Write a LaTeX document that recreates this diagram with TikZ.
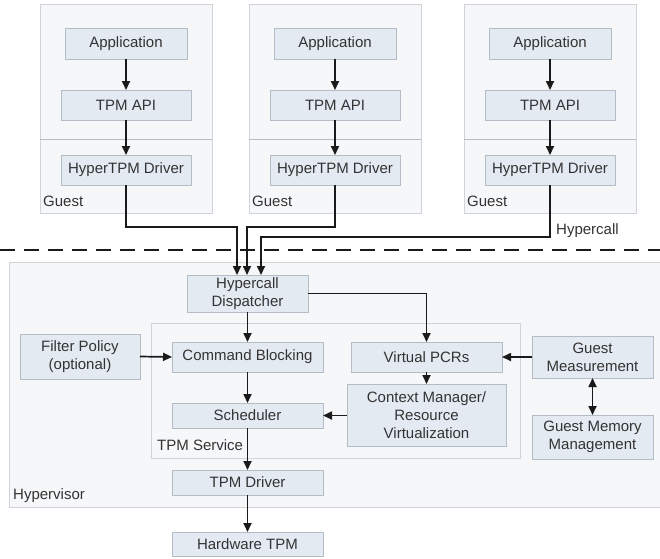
\documentclass[tikz,border=0pt]{standalone}
\usepackage{fontspec}
\setmainfont{Liberation Sans}
\usetikzlibrary{arrows.meta}
\definecolor{boxfill}{HTML}{E4EAF2}
\definecolor{boxline}{HTML}{B4BCC6}
\definecolor{outfill}{HTML}{F6F7F9}
\definecolor{outline}{HTML}{D0D4D8}
\definecolor{txt}{HTML}{333333}
\definecolor{arrc}{HTML}{1A1A1A}
\begin{document}
\begin{tikzpicture}[x=1pt,y=-1pt,
  font=\fontsize{15}{18}\selectfont,
  outer/.style={draw=outline,fill=outfill,line width=0.8pt,inner sep=0pt,outer sep=0pt},
  blk/.style={draw=boxline,fill=boxfill,line width=0.8pt,inner sep=0pt,outer sep=0pt,text=txt,align=center},
  lbl/.style={text=txt,inner sep=0pt,anchor=base west},
  arr/.style={draw=arrc,line width=1.7pt,-{Triangle[length=9pt,width=8pt]}},
  darr/.style={draw=arrc,line width=1.7pt,{Triangle[length=9pt,width=8pt]}-{Triangle[length=9pt,width=8pt]}}]
\useasboundingbox (0,0) rectangle (660,558);
\fill[white] (0,0) rectangle (660,558);
% guests
\foreach \n/\cx in {1/126,2/335,3/550}{
  \node[outer,minimum width=172pt,minimum height=209pt] (g\n) at (\cx,108.5) {};
  \draw[boxline,line width=0.8pt] (g\n.west |- 0,139) -- (g\n.east |- 0,139);
  \node[blk,minimum width=122pt,minimum height=31pt] (app\n) at (\cx,43.5) {Application};
  \node[blk,minimum width=130pt,minimum height=30pt] (api\n) at (\cx,105) {TPM API};
  \node[blk,minimum width=130pt,minimum height=30pt] (hd\n) at (\cx,170) {HyperTPM Driver};
  \node[lbl] (gl\n) at ([xshift=3pt]g\n.west |- 0,206) {Guest};
  \draw[arr] (app\n) -- (api\n);
  \draw[arr] (api\n) -- (hd\n);
}
% dashed separator
\draw[arrc,line width=1.6pt,dash pattern=on 15pt off 9pt] (0,250) -- (660,250);
% hypervisor
\node[outer,minimum width=654pt,minimum height=245pt] (hyp) at (336,384.5) {};
\node[lbl] (hypl) at (13,499) {Hypervisor};
\node[outer,minimum width=369pt,minimum height=135pt] (svc) at (335.5,390.5) {};
\node[lbl] (svcl) at (157,450) {TPM Service};
% blocks
\node[blk,minimum width=121pt,minimum height=37pt] (disp) at (247.5,293.5) {Hypercall\\Dispatcher};
\node[blk,minimum width=151pt,minimum height=30pt] (cmd) at (247.5,357) {Command Blocking};
\node[blk,minimum width=151pt,minimum height=25pt] (sched) at (247.5,415.5) {Scheduler};
\node[blk,minimum width=151pt,minimum height=25pt] (drv) at (247.5,482.5) {TPM Driver};
\node[blk,minimum width=151pt,minimum height=24pt] (hw) at (247.5,544) {Hardware TPM};
\node[blk,minimum width=120pt,minimum height=45pt] (filt) at (80,356.5) {Filter Policy\\(optional)};
\node[blk,minimum width=151pt,minimum height=30pt] (vpcr) at (426.5,357) {Virtual PCRs};
\node[blk,minimum width=159pt,minimum height=62pt] (ctx) at (426.5,415) {Context Manager/\\Resource\\Virtualization};
\node[blk,minimum width=121pt,minimum height=42pt] (gm) at (592.5,357) {Guest\\Measurement};
\node[blk,minimum width=121pt,minimum height=44pt] (gmm) at (592.5,437) {Guest Memory\\Management};
% hypercall connectors
\coordinate (j1) at (237,227);
\coordinate (j2) at (247,227);
\coordinate (j3) at (261,237);
\draw[arr] (hd1.south) |- (j1) -- (j1 |- disp.north);
\draw[arr] (hd2.south) |- (j2) -- (j2 |- disp.north);
\draw[arr] (hd3.south) |- (j3) -- (j3 |- disp.north);
\node[lbl] (hcl) at (556,234) {Hypercall};
% hypervisor connectors
\draw[arr] (disp.east) -| (vpcr.north);
\draw[arr] (disp) -- (cmd);
\draw[arr] (cmd) -- (sched);
\draw[arr] (sched) -- (drv);
\draw[arr] (drv) -- (hw);
\draw[arr] (filt.east) -- (cmd.west);
\draw[arr] (vpcr) -- (ctx);
\draw[arr] (ctx.west |- sched.east) -- (sched.east);
\draw[arr] (gm.west) -- (vpcr.east);
\draw[darr] (gm) -- (gmm);
\end{tikzpicture}
\end{document}
